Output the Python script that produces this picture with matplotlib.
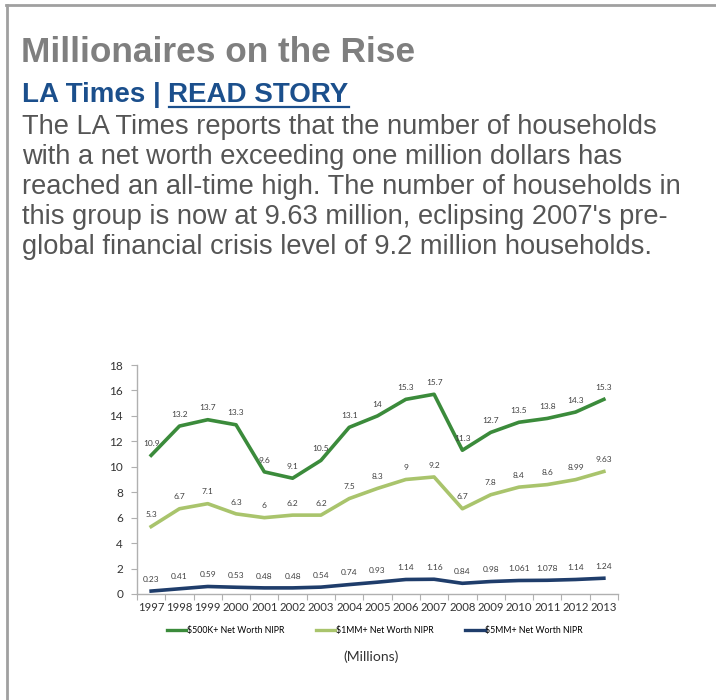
import matplotlib.pyplot as plt
from matplotlib.lines import Line2D

years = [str(y) for y in range(1997, 2014)]
net_500k = [10.9, 13.2, 13.7, 13.3, 9.6, 9.1, 10.5, 13.1, 14, 15.3, 15.7, 11.3, 12.7, 13.5, 13.8, 14.3, 15.3]
net_1mm = [5.3, 6.7, 7.1, 6.3, 6, 6.2, 6.2, 7.5, 8.3, 9, 9.2, 6.7, 7.8, 8.4, 8.6, 8.99, 9.63]
net_5mm = [0.23, 0.41, 0.59, 0.53, 0.48, 0.48, 0.54, 0.74, 0.93, 1.14, 1.16, 0.84, 0.98, 1.061, 1.078, 1.14, 1.24]
labels_5mm = ["0.23", "0.41", "0.59", "0.53", "0.48", "0.48", "0.54", "0.74", "0.93", "1.14", "1.16", "0.84", "0.98", "1.061", "1.078", "1.14", "1.24"]
series_names = ["$500K+ Net Worth NIPR", "$1MM+ Net Worth NIPR", "$5MM+ Net Worth NIPR"]
colors = ["#3b8b3b", "#a9c46c", "#1f3d6b"]


def main():
    fig = plt.figure(figsize=(7.16, 7.0), dpi=100)
    W, H = 716, 700

    # card border
    fig.add_artist(Line2D([6 / W, 1], [1 - 4.5 / H, 1 - 4.5 / H], color="#a0a0a0", lw=2))
    fig.add_artist(Line2D([6.5 / W, 6.5 / W], [0, 1 - 4.5 / H], color="#a0a0a0", lw=2))

    # header text
    fig.text(21 / W, 1 - 52 / H, "Millionaires on the Rise", fontsize=25.4, fontweight="bold",
             color="#7f7f7f", family="Liberation Sans", va="center")
    t1 = fig.text(22 / W, 1 - 95 / H, "LA Times | ", fontsize=20, fontweight="bold",
                  color="#1b4f8c", family="Liberation Sans", va="center")
    r = fig.canvas.get_renderer()
    x_end = t1.get_window_extent(r).x1
    t2 = fig.text(x_end / W, 1 - 95 / H, "READ STORY", fontsize=20, fontweight="bold",
                  color="#1b4f8c", family="Liberation Sans", va="center")
    bb = t2.get_window_extent(r)
    fig.add_artist(Line2D([bb.x0 / W, bb.x1 / W], [1 - 107 / H, 1 - 107 / H], color="#1b4f8c", lw=1.6))
    body = ["The LA Times reports that the number of households",
            "with a net worth exceeding one million dollars has",
            "reached an all-time high. The number of households in",
            "this group is now at 9.63 million, eclipsing 2007's pre-",
            "global financial crisis level of 9.2 million households."]
    for i, line in enumerate(body):
        fig.text(22 / W, 1 - (127 + 30 * i) / H, line, fontsize=19.6, color="#555555",
                 family="Liberation Sans", va="center")

    # chart
    ax = fig.add_axes([137 / W, 106 / H, 481 / W, 229 / H])
    x = list(range(len(years)))
    for vals, c in zip([net_500k, net_1mm, net_5mm], colors):
        ax.plot(x, vals, color=c, lw=2.6, solid_joinstyle="round")

    for i in x:
        ax.annotate(f"{net_500k[i]:g}", (i, net_500k[i]), xytext=(0, 6), textcoords="offset points",
                    ha="center", va="bottom", fontsize=6, color="#404040", family="Lato")
        ax.annotate(f"{net_1mm[i]:g}", (i, net_1mm[i]), xytext=(0, 6), textcoords="offset points",
                    ha="center", va="bottom", fontsize=6, color="#404040", family="Lato")
        ax.annotate(labels_5mm[i], (i, net_5mm[i]), xytext=(0, 6), textcoords="offset points",
                    ha="center", va="bottom", fontsize=6, color="#404040", family="Lato")

    ax.set_xlim(-0.5, len(years) - 0.5)
    ax.set_ylim(0, 18)
    ax.set_yticks(range(0, 19, 2))
    ax.set_xticks([i - 0.5 for i in range(len(years) + 1)])
    ax.set_xticklabels([])
    ax.set_xticks(x, minor=True)
    ax.set_xticklabels(years, minor=True)
    ax.tick_params(axis="x", which="minor", length=0, labelsize=8.2, labelcolor="#333333", pad=6)
    ax.tick_params(axis="x", which="major", length=4, color="#b0b0b0")
    ax.tick_params(axis="y", length=4, color="#b0b0b0", labelsize=8.5, labelcolor="#333333", pad=6)
    for lab in ax.get_xticklabels(minor=True) + ax.get_yticklabels():
        lab.set_family("Lato")
    for s in ["top", "right"]:
        ax.spines[s].set_visible(False)
    for s in ["left", "bottom"]:
        ax.spines[s].set_color("#b0b0b0")
        ax.spines[s].set_linewidth(1)
    ax.patch.set_alpha(0)

    handles = [Line2D([], [], color=c, lw=2.4) for c in colors]
    fig.legend(handles, series_names, loc="center", bbox_to_anchor=(375 / W, 1 - 631 / H), ncol=3,
               frameon=False, handlelength=2.2, handletextpad=0.1, columnspacing=3.6,
               prop={"family": "Lato", "size": 6.3})
    fig.text(371 / W, 1 - 657 / H, "(Millions)", fontsize=10, color="#333333", family="Lato",
             ha="center", va="center")

    fig.savefig("out.png", dpi=100, facecolor="white")


if __name__ == "__main__":
    main()
